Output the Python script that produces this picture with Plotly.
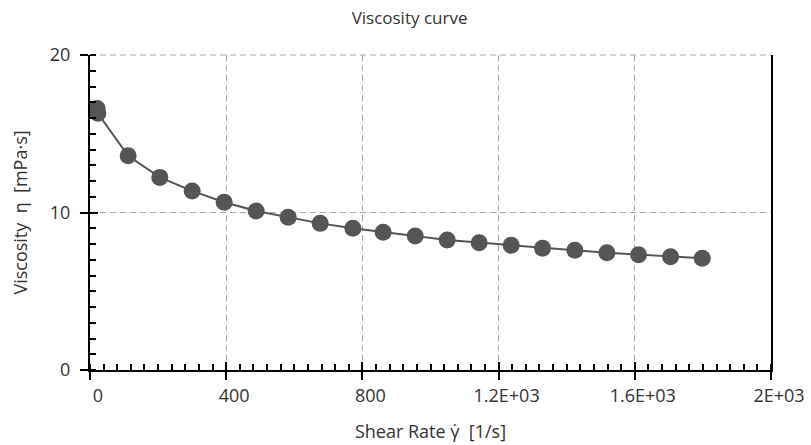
import plotly.graph_objects as go

# Flow curve measurement: shear rate [1/s] vs viscosity [mPa·s]
shear_rate = [21, 23, 112, 205, 300, 394, 488, 582, 676, 772, 861, 955,
              1049, 1143, 1237, 1329, 1424, 1518, 1611, 1705, 1798]
viscosity = [16.6, 16.3, 13.6, 12.23, 11.37, 10.65, 10.1, 9.7, 9.31, 9.0, 8.74, 8.51,
             8.25, 8.08, 7.92, 7.73, 7.6, 7.45, 7.32, 7.19, 7.09]

x_ticks = [0, 400, 800, 1200, 1600, 2000]
x_tick_text = ["0", "400", "800", "1.2E+03", "1.6E+03", "2E+03"]
y_ticks = [0, 10, 20]
y_tick_text = ["0", "10", "20"]

FONT = "Open Sans"
TEXT = "#333333"
MARK = "#555555"
GRID = "#a8a8a8"

fig = go.Figure()
fig.add_trace(go.Scatter(
    x=shear_rate, y=viscosity, mode="lines+markers",
    line=dict(color=MARK, width=2),
    marker=dict(color=MARK, size=17, line=dict(width=0)),
    showlegend=False, hoverinfo="x+y",
))
# invisible trace so the overlay axes (inner half of the major ticks) get drawn
fig.add_trace(go.Scatter(x=[None], y=[None], xaxis="x2", yaxis="y2",
                         showlegend=False, hoverinfo="skip"))

common_axis = dict(showline=True, linecolor="black", linewidth=2,
                   tickcolor="black", tickwidth=2, zeroline=False, automargin=False)

fig.update_layout(
    width=811, height=445,
    margin=dict(l=90, r=40, t=55, b=75),
    paper_bgcolor="white", plot_bgcolor="white",
    font=dict(family=FONT, size=18, color=TEXT),
    title=dict(text="Viscosity curve", x=0.505, xanchor="center", y=0.96, yanchor="middle",
               font=dict(family=FONT, size=17, color=TEXT)),
    xaxis=dict(
        range=[0, 2000], tickvals=x_ticks, ticktext=x_tick_text,
        ticks="outside", ticklen=8, ticklabelshift=8,
        tickfont=dict(family=FONT, size=18, color=TEXT),
        showgrid=True, gridcolor=GRID, gridwidth=1, griddash="6px,4px",
        minor=dict(ticks="inside", dtick=40, tick0=0, ticklen=6, tickcolor="black",
                   tickwidth=1.5, showgrid=False),
        title=dict(text="Shear Rate γ̇\u00a0\u00a0[1/s]", standoff=20,
                   font=dict(family=FONT, size=18, color=TEXT)),
        mirror=False, **common_axis,
    ),
    yaxis=dict(
        range=[0, 20], tickvals=y_ticks, ticktext=y_tick_text,
        ticks="outside", ticklen=8, ticklabelstandoff=6,
        tickfont=dict(family=FONT, size=18, color=TEXT),
        showgrid=True, gridcolor=GRID, gridwidth=1, griddash="6px,4px",
        minor=dict(ticks="inside", dtick=1, tick0=0, ticklen=6, tickcolor="black",
                   tickwidth=1.5, showgrid=False),
        title=dict(text="Viscosity\u00a0\u00a0η\u00a0\u00a0[mPa·s]", standoff=18,
                   font=dict(family=FONT, size=18, color=TEXT)),
        mirror=True, **common_axis,
    ),
    xaxis2=dict(range=[0, 2000], overlaying="x", anchor="y2", tickvals=x_ticks,
                ticks="inside", ticklen=8, tickcolor="black", tickwidth=2,
                showticklabels=False, showgrid=False, showline=False, zeroline=False,
                automargin=False),
    yaxis2=dict(range=[0, 20], overlaying="y", anchor="x2", tickvals=y_ticks,
                ticks="inside", ticklen=8, tickcolor="black", tickwidth=2,
                showticklabels=False, showgrid=False, showline=False, zeroline=False,
                automargin=False),
    # dashed grid line along the top edge of the plotting area
    shapes=[dict(type="line", xref="paper", yref="paper", x0=0, x1=1, y0=1, y1=1,
                 line=dict(color=GRID, width=1, dash="6px,4px"), layer="below")],
)

fig.write_html("out.html")
